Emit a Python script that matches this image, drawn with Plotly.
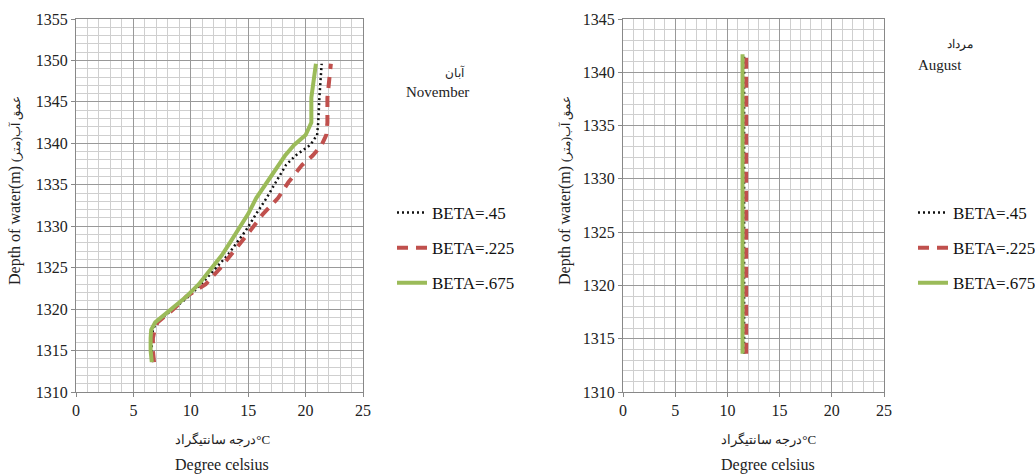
import plotly.graph_objects as go

# ---- data ----
nov_depth = [1313.6, 1315, 1316.5, 1317.5, 1318.4, 1319.2, 1320, 1321.5, 1323, 1325,
             1326.5, 1328, 1329.5, 1331.5, 1333.4, 1335.3, 1337.4, 1338.5, 1339.8,
             1341, 1342.5, 1345.5, 1349.6]
nov_beta_045 = [6.7, 6.6, 6.6, 6.7, 7.0, 7.7, 8.5, 9.8, 10.9, 12.2, 13.2, 14.0, 14.8,
                15.7, 16.6, 17.4, 18.3, 19.1, 20.4, 21.0, 21.1, 21.2, 21.4]
nov_beta_0225 = [6.8, 6.7, 6.7, 6.85, 7.1, 7.8, 8.5, 9.6, 11.3, 12.6, 13.5, 14.3, 15.2,
                 16.3, 17.6, 18.5, 19.7, 20.6, 21.4, 21.8, 21.9, 21.9, 22.2]
nov_beta_0675 = [6.6, 6.5, 6.5, 6.55, 6.9, 7.6, 8.4, 9.6, 10.7, 11.9, 12.7, 13.4, 14.1,
                 15.0, 15.7, 16.6, 17.6, 18.2, 19.0, 20.0, 20.5, 20.5, 20.9]

aug_depth = [1313.6, 1320, 1325, 1330, 1335, 1341.7]
aug_beta_045 = [11.6, 11.6, 11.6, 11.6, 11.6, 11.6]
aug_beta_0225 = [11.8, 11.8, 11.8, 11.8, 11.8, 11.8]
aug_beta_0675 = [11.45, 11.45, 11.45, 11.45, 11.45, 11.45]

series_names = ["BETA=.45", "BETA=.225", "BETA=.675"]
x_ticks = [0, 5, 10, 15, 20, 25]

FONT = "Times New Roman, Liberation Serif, serif"
GREEN = "#9BBB59"
RED = "#C0504D"

fig = go.Figure()

styles = [
    dict(color="#111111", width=2.5, dash="2px,3px"),
    dict(color=RED, width=4, dash="11px,8px"),
    dict(color=GREEN, width=4, dash="solid"),
]

nov_vals = [nov_beta_045, nov_beta_0225, nov_beta_0675]
aug_vals = [aug_beta_045, aug_beta_0225, aug_beta_0675]

for i, (name, vals) in enumerate(zip(series_names, nov_vals)):
    fig.add_trace(go.Scatter(x=vals, y=nov_depth, mode="lines", name=name,
                             line=styles[i], xaxis="x", yaxis="y",
                             legend="legend", legendgroup=f"n{i}"))
for i, (name, vals) in enumerate(zip(series_names, aug_vals)):
    fig.add_trace(go.Scatter(x=vals, y=aug_depth, mode="lines", name=name,
                             line=styles[i], xaxis="x2", yaxis="y2",
                             legend="legend2", legendgroup=f"a{i}"))

W, H = 1035, 475
yd = [1 - 392 / H, 1 - 19 / H]

axis_common = dict(
    showline=True, linecolor="#888888", linewidth=1,
    showgrid=True, gridcolor="#999999", gridwidth=1,
    minor=dict(dtick=1, showgrid=True, gridcolor="#cfcfcf", gridwidth=1),
    ticks="outside", ticklen=4, tickcolor="#888888",
    tickfont=dict(family=FONT, size=16, color="#222222"),
    zeroline=False, mirror=True, automargin=False,
)

legend_common = dict(xanchor="left", yanchor="middle",
                     font=dict(family=FONT, size=17, color="#111111"),
                     tracegroupgap=10, bgcolor="rgba(0,0,0,0)")

fig.update_layout(
    width=W, height=H,
    margin=dict(l=0, r=0, t=0, b=0, autoexpand=False),
    paper_bgcolor="white", plot_bgcolor="white",
    font=dict(family=FONT, size=14, color="#222222"),
    xaxis=dict(domain=[76 / W, 363 / W], range=[0, 25], tickvals=x_ticks,
               anchor="y", **axis_common),
    yaxis=dict(domain=yd, range=[1310, 1355], dtick=5, anchor="x", **axis_common),
    xaxis2=dict(domain=[623 / W, 884 / W], range=[0, 25], tickvals=x_ticks,
                anchor="y2", **axis_common),
    yaxis2=dict(domain=yd, range=[1310, 1345], dtick=5, anchor="x2", **axis_common),
    legend=dict(x=392 / W, y=1 - 248 / H, **legend_common),
    legend2=dict(x=913 / W, y=1 - 248 / H, **legend_common),
)

ann = []
ytitle = "Depth of water(m) <span style='font-size:12px'>(عمق آب(متر</span>"
for cx, cy_top, cx_title, labels in [
    (15, 191, 222, ("آبان", "November", 455, 73, 437, 92)),
    (565, 191, 768, ("مرداد", "August", 960, 44, 940, 65)),
]:
    ann.append(dict(x=cx / W, y=1 - cy_top / H, xref="paper", yref="paper",
                    xanchor="center", yanchor="middle",
                    text=ytitle, textangle=-90, showarrow=False,
                    font=dict(family=FONT, size=16, color="#222222")))
    ann.append(dict(x=cx_title / W, y=1 - 440 / H, xref="paper", yref="paper",
                    xanchor="center", yanchor="middle",
                    text="درجه سانتیگراد°C", showarrow=False,
                    font=dict(family=FONT, size=13, color="#222222")))
    ann.append(dict(x=cx_title / W, y=1 - 465 / H, xref="paper", yref="paper",
                    xanchor="center", yanchor="middle",
                    text="Degree celsius", showarrow=False,
                    font=dict(family=FONT, size=16, color="#222222")))
    fa, en, fx, fy, ex, ey = labels
    ann.append(dict(x=fx / W, y=1 - fy / H, xref="paper", yref="paper",
                    xanchor="center", yanchor="middle",
                    text=fa, showarrow=False,
                    font=dict(family=FONT, size=12, color="#222222")))
    ann.append(dict(x=ex / W, y=1 - ey / H, xref="paper", yref="paper",
                    xanchor="center", yanchor="middle",
                    text=en, showarrow=False,
                    font=dict(family=FONT, size=15, color="#222222")))
fig.update_layout(annotations=ann)

fig.write_html("out.html",
               config={"displayModeBar": False},
               post_script="document.body.style.margin='0px';")
